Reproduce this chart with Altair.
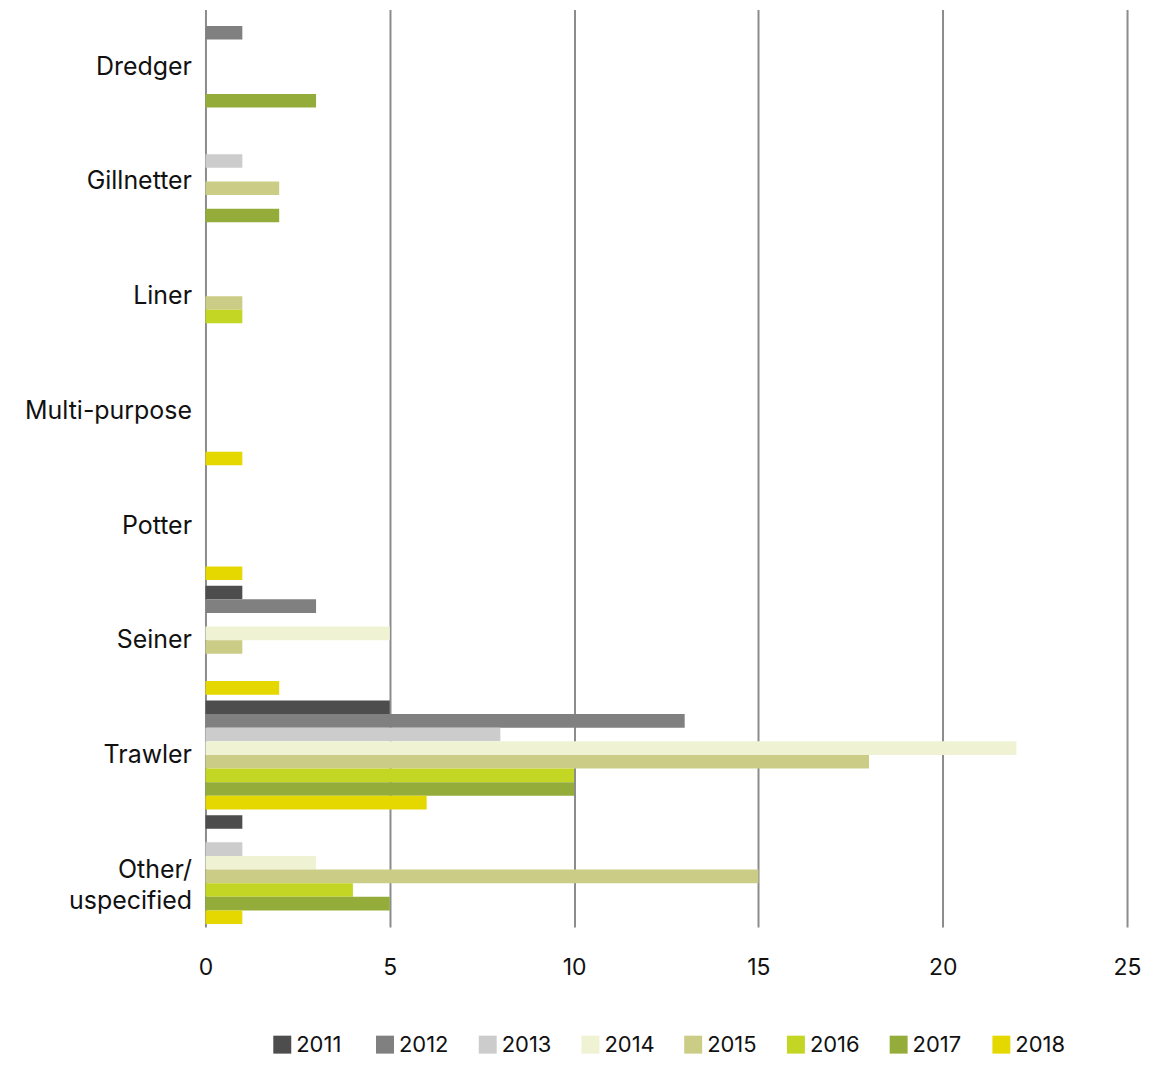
import altair as alt
import pandas as pd

categories = ["Dredger", "Gillnetter", "Liner", "Multi-purpose", "Potter", "Seiner", "Trawler", "Other/uspecified"]
years = ["2011", "2012", "2013", "2014", "2015", "2016", "2017", "2018"]
colors = ["#4d4d4d", "#808080", "#cccccc", "#eff3d3", "#cbcd86", "#c4d624", "#94ad3a", "#e5d800"]

# values per year, in category order
v2011 = [0, 0, 0, 0, 0, 1, 5, 1]
v2012 = [1, 0, 0, 0, 0, 3, 13, 0]
v2013 = [0, 1, 0, 0, 0, 0, 8, 1]
v2014 = [0, 0, 0, 0, 0, 5, 22, 3]
v2015 = [0, 2, 1, 0, 0, 1, 18, 15]
v2016 = [0, 0, 1, 0, 0, 0, 10, 4]
v2017 = [3, 2, 0, 0, 0, 0, 10, 5]
v2018 = [0, 0, 0, 1, 1, 2, 6, 1]

series = [v2011, v2012, v2013, v2014, v2015, v2016, v2017, v2018]
rows = []
for y, vals in zip(years, series):
    for c, v in zip(categories, vals):
        if v > 0:
            rows.append({"category": c, "year": y, "value": v})
df = pd.DataFrame(rows)

FONT = "Inter"

chart = alt.Chart(df).mark_bar().encode(
    y=alt.Y("category:N", sort=categories,
            scale=alt.Scale(domain=categories, paddingInner=0.05, paddingOuter=0.025),
            axis=alt.Axis(title=None, domain=False, ticks=False, grid=False,
                          labelFontSize=25, labelFont=FONT, labelColor="#111111",
                          labelPadding=14,
                          labelLineHeight=32,
                          labelExpr="datum.value == 'Other/uspecified' ? ['Other/', 'uspecified'] : datum.value")),
    yOffset=alt.YOffset("year:N", scale=alt.Scale(domain=years, paddingInner=0, paddingOuter=0)),
    x=alt.X("value:Q", scale=alt.Scale(domain=[0, 25], nice=False),
            axis=alt.Axis(title=None, values=[0, 5, 10, 15, 20, 25], domain=False, ticks=False,
                          grid=True, gridColor="#8c8c8c", gridWidth=2, labelFlush=False,
                          labelFontSize=23, labelFont=FONT, labelColor="#111111",
                          labelPadding=30)),
    color=alt.Color("year:N", scale=alt.Scale(domain=years, range=colors),
                    legend=alt.Legend(title=None, orient="none", direction="horizontal",
                                      legendX=66, legendY=1027,
                                      symbolType="square", symbolSize=324, symbolStrokeWidth=0,
                                      symbolOpacity=1,
                                      labelFontSize=22, labelFont=FONT, labelColor="#111111",
                                      labelOffset=3, columnPadding=27, gridAlign="all")),
).properties(
    width=924, height=920,
    autosize=alt.AutoSizeParams(type="none"),
    padding={"left": 198, "top": 0, "right": 14, "bottom": 131}
).configure_view(stroke=None)

chart.save("out.html", embed_options={"renderer": "svg", "actions": False})
